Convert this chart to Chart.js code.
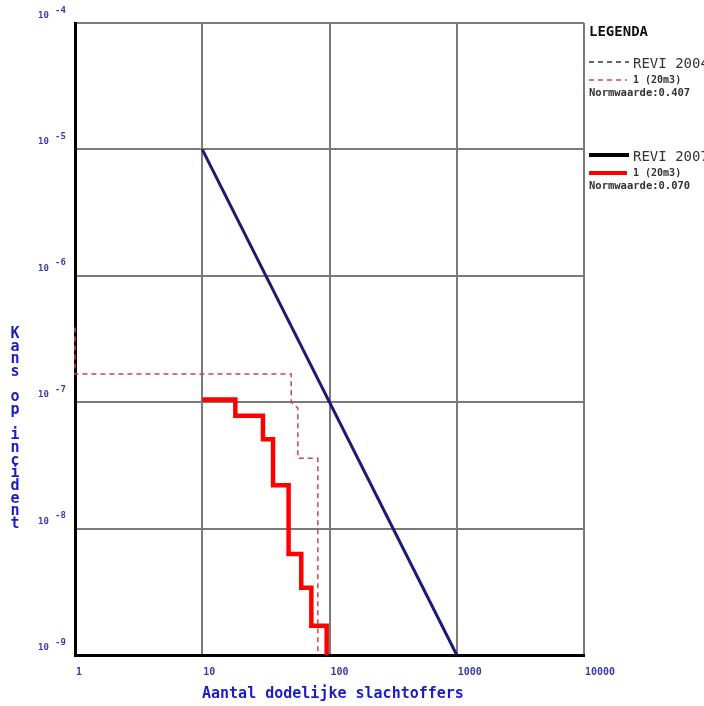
<!DOCTYPE html>
<html>
<head>
<meta charset="utf-8">
<script src="https://cdn.jsdelivr.net/npm/chart.js@4"></script>
<style>
  body { margin: 0; background: #fff; }
  canvas { display: block; }
</style>
</head>
<body>
<canvas id="fn-chart" width="704" height="706"></canvas>
<script>
// as-labels
const xTicks = [1, 10, 100, 1000, 10000];
const yExponents = [-4, -5, -6, -7, -8, -9];

// normlijn (oriëntatiewaarde)
const normN = [10, 1000];
const normF = [1e-5, 1e-9];

// REVI 2004 - 1 (20m3), hoekpunten van de curve
const revi2004N = [1, 1, 50, 50, 56.4, 56.4, 81, 81];
const revi2004F = [3.9e-7, 1.67e-7, 1.67e-7, 1.0e-7, 9.0e-8, 3.6e-8, 3.6e-8, 1e-9];

// REVI 2007 - 1 (20m3), trappen
const revi2007N = [10, 18.2, 30, 36, 47.7, 60, 72, 95];
const revi2007F = [1.05e-7, 7.8e-8, 5.1e-8, 2.2e-8, 6.3e-9, 3.4e-9, 1.7e-9, 1e-9];

// legenda
const legendTitles = ['REVI 2004', 'REVI 2007'];
const legendSubs = ['1 (20m3)', '1 (20m3)'];
const legendNorms = ['Normwaarde:0.407', 'Normwaarde:0.070'];

const BLUE = '#1c1cc4';
const TICKBLUE = '#3a3ab4';

function stepPoints(ns, fs) {
    const pts = [];
    for (let i = 0; i < ns.length; i++) {
        pts.push({ x: ns[i], y: fs[i] });
        if (i + 1 < ns.length) pts.push({ x: ns[i + 1], y: fs[i] });
    }
    return pts;
}

const decorations = {
    id: 'decorations',
    afterDraw(c) {
        const ctx = c.ctx;
        const xs = c.scales.x, ys = c.scales.y;
        ctx.save();
        ctx.textBaseline = 'alphabetic';

        // y tick labels 10^n
        ctx.fillStyle = TICKBLUE;
        ctx.textAlign = 'left';
        ctx.font = 'bold 9px "DejaVu Sans Mono"';
        yExponents.forEach(e => {
            const py = ys.getPixelForValue(Math.pow(10, e));
            ctx.fillText('10', 38, py - 5);
            ctx.fillText(String(e), 55, py - 10.5);
        });

        // x tick labels
        ctx.textBaseline = 'middle';
        ctx.font = 'bold 10px "DejaVu Sans Mono"';
        xTicks.forEach(v => {
            const px = xs.getPixelForValue(v);
            ctx.fillText(String(v), px + 1, 672);
        });

        // axis titles
        ctx.fillStyle = BLUE;
        ctx.font = 'bold 15px "DejaVu Sans Mono"';
        ctx.fillText('Aantal dodelijke slachtoffers', 202, 694);
        const yTitle = 'Kans op incident';
        ctx.textAlign = 'center';
        for (let i = 0; i < yTitle.length; i++) {
            ctx.fillText(yTitle[i], 15, 334 + i * 12.67);
        }

        // legenda
        ctx.textAlign = 'left';
        ctx.fillStyle = '#111';
        ctx.font = 'bold 14px "DejaVu Sans Mono"';
        ctx.fillText('LEGENDA', 589, 32);

        const groupY = [62, 155];
        groupY.forEach((gy, i) => {
            const dashed = i === 0;
            ctx.setLineDash(dashed ? [5, 4] : []);
            ctx.lineWidth = dashed ? 1.5 : 4;
            ctx.strokeStyle = dashed ? '#333' : '#000';
            ctx.beginPath(); ctx.moveTo(589, gy); ctx.lineTo(629, gy); ctx.stroke();
            ctx.strokeStyle = dashed ? '#d04848' : '#ff0000';
            ctx.beginPath(); ctx.moveTo(589, gy + 18); ctx.lineTo(627, gy + 18); ctx.stroke();
            ctx.setLineDash([]);

            ctx.fillStyle = '#333';
            ctx.font = '14px "DejaVu Sans Mono"';
            ctx.fillText(legendTitles[i], 633, gy + 2);
            ctx.font = 'bold 10px "DejaVu Sans Mono"';
            ctx.fillText(legendSubs[i], 633, gy + 18);
            ctx.font = 'bold 10.5px "DejaVu Sans Mono"';
            ctx.fillText(legendNorms[i], 589, gy + 31);
        });
        ctx.restore();
    }
};

const scaleGrid = { color: '#7a7a7a', lineWidth: 2, drawTicks: false };

new Chart(document.getElementById('fn-chart'), {
    type: 'line',
    data: {
        datasets: [
            {
                label: 'norm',
                data: normN.map((n, i) => ({ x: n, y: normF[i] })),
                borderColor: '#1b1b72',
                borderWidth: 3,
                pointRadius: 0
            },
            {
                label: 'REVI 2004',
                data: revi2004N.map((n, i) => ({ x: n, y: revi2004F[i] })),
                borderColor: '#cc4444',
                borderWidth: 1.5,
                borderDash: [5, 4],
                pointRadius: 0
            },
            {
                label: 'REVI 2007',
                data: stepPoints(revi2007N, revi2007F),
                borderColor: '#ff0000',
                borderWidth: 4.5,
                borderJoinStyle: 'miter',
                pointRadius: 0
            }
        ]
    },
    options: {
        responsive: false,
        animation: false,
        clip: false,
        layout: { padding: { left: 75, top: 23, right: 120, bottom: 51 } },
        plugins: { legend: { display: false }, tooltip: { enabled: false } },
        scales: {
            x: {
                type: 'logarithmic',
                min: 1, max: 10000,
                afterBuildTicks: s => { s.ticks = xTicks.map(v => ({ value: v })); },
                ticks: { display: false },
                grid: scaleGrid,
                border: { color: '#000', width: 3 }
            },
            y: {
                type: 'logarithmic',
                min: 1e-9, max: 1e-4,
                afterBuildTicks: s => { s.ticks = yExponents.map(e => ({ value: Math.pow(10, e) })); },
                ticks: { display: false },
                grid: scaleGrid,
                border: { color: '#000', width: 3 }
            }
        }
    },
    plugins: [decorations]
});
</script>
</body>
</html>
